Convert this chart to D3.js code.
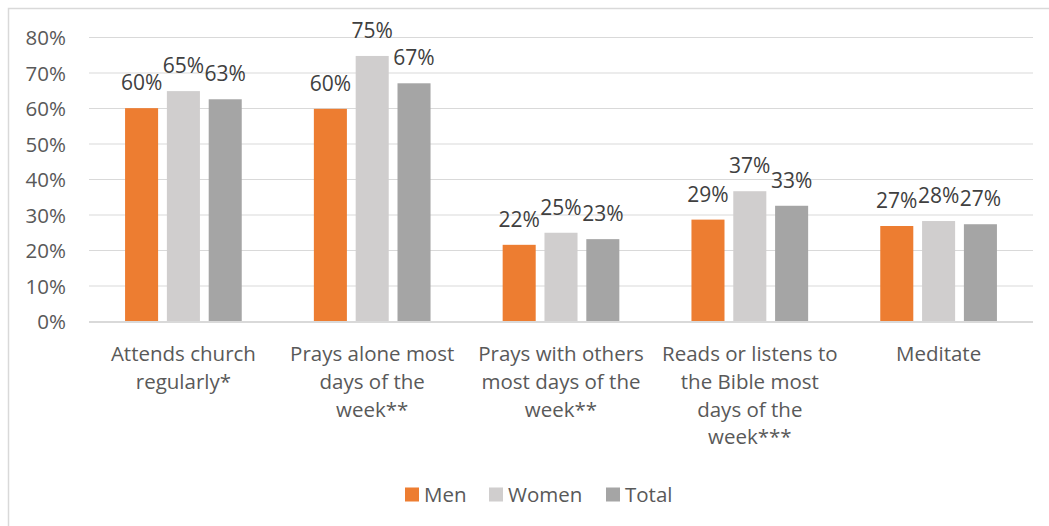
<!DOCTYPE html>
<html>
<head>
<meta charset="utf-8">
<script src="https://cdn.jsdelivr.net/npm/d3@7"></script>
<style>
  html, body { margin: 0; padding: 0; background: #fff; }
  svg { display: block; }
  text { font-family: "Open Sans", "Noto Sans", sans-serif; fill: #595959; }
</style>
</head>
<body>
<svg id="chart" width="1049" height="526"></svg>
<script>
// Religious practices by gender
const categories = [
  ["Attends church", "regularly*"],
  ["Prays alone most", "days of the", "week**"],
  ["Prays with others", "most days of the", "week**"],
  ["Reads or listens to", "the Bible most", "days of the", "week***"],
  ["Meditate"]
];
const seriesNames = ["Men", "Women", "Total"];
const men   = [0.601, 0.599, 0.216, 0.287, 0.269];
const women = [0.649, 0.748, 0.250, 0.367, 0.283];
const total = [0.626, 0.671, 0.232, 0.326, 0.274];
const yTicks = [0, 0.1, 0.2, 0.3, 0.4, 0.5, 0.6, 0.7, 0.8];
const colors = ["#ED7D31", "#D0CECE", "#A5A5A5"];

const seriesValues = [men, women, total];
const rows = categories.map((lines, i) => ({
  key: lines.join(" "),
  lines,
  values: seriesNames.map((s, j) => ({ series: s, value: seriesValues[j][i] }))
}));

const svg = d3.select("#chart");
const fontSize = 20.5;

// chart frame
svg.append("rect")
  .attr("x", 8.5).attr("y", 8.5)
  .attr("width", 1060).attr("height", 540)
  .attr("fill", "#fff")
  .attr("stroke", "#D9D9D9").attr("stroke-width", 1.5);

const plot = { left: 89, right: 1033, top: 37.5, bottom: 321.5 };

const y = d3.scaleLinear().domain([0, 0.8]).range([plot.bottom, plot.top]);
const x0 = d3.scaleBand().domain(rows.map(r => r.key)).range([plot.left, plot.right]);
const inner = x0.bandwidth() * 0.618;
const x1 = d3.scaleBand().domain(seriesNames)
  .range([(x0.bandwidth() - inner) / 2, (x0.bandwidth() + inner) / 2])
  .paddingInner(0.21);
const pct = d3.format(".0%");

// gridlines
svg.append("g")
  .selectAll("line")
  .data(yTicks.filter(t => t > 0))
  .join("line")
  .attr("x1", plot.left).attr("x2", plot.right)
  .attr("y1", d => y(d)).attr("y2", d => y(d))
  .attr("stroke", "#D9D9D9").attr("stroke-width", 1.2);

// y axis labels
const yAxis = svg.append("g")
  .attr("transform", `translate(${plot.left - 23},0)`)
  .call(d3.axisLeft(y).tickValues(yTicks).tickFormat(pct).tickSize(0).tickPadding(0));
yAxis.select(".domain").remove();
yAxis.selectAll("text")
  .attr("font-size", fontSize)
  .attr("font-family", null)
  .attr("fill", "#595959")
  .attr("dy", "0.36em")
  .attr("dx", 0);

// bars
const groups = svg.append("g")
  .selectAll("g")
  .data(rows)
  .join("g")
  .attr("transform", d => `translate(${x0(d.key)},0)`);

groups.selectAll("rect")
  .data(d => d.values)
  .join("rect")
  .attr("x", d => x1(d.series))
  .attr("width", x1.bandwidth())
  .attr("y", d => y(d.value))
  .attr("height", d => y(0) - y(d.value))
  .attr("fill", (d, i) => colors[i]);

// value labels
groups.selectAll("text.val")
  .data(d => d.values)
  .join("text")
  .attr("class", "val")
  .attr("x", d => x1(d.series) + x1.bandwidth() / 2)
  .attr("y", d => y(d.value) - 18)
  .attr("text-anchor", "middle")
  .attr("font-size", 21)
  .style("fill", "#404040")
  .text(d => pct(d.value));

// baseline
svg.append("line")
  .attr("x1", plot.left).attr("x2", plot.right)
  .attr("y1", plot.bottom + 0.5).attr("y2", plot.bottom + 0.5)
  .attr("stroke", "#D9D9D9").attr("stroke-width", 2.2);

// category labels
const catLabels = svg.append("g")
  .selectAll("text")
  .data(rows)
  .join("text")
  .attr("x", d => x0(d.key) + x0.bandwidth() / 2)
  .attr("y", 361)
  .attr("text-anchor", "middle")
  .attr("font-size", fontSize);
catLabels.selectAll("tspan")
  .data(d => d.lines)
  .join("tspan")
  .attr("x", function () { return d3.select(this.parentNode).attr("x"); })
  .attr("dy", (d, i) => i === 0 ? 0 : 27.8)
  .text(d => d);

// legend
const legendX = [405, 489, 606];
const legend = svg.append("g")
  .selectAll("g")
  .data(seriesNames)
  .join("g")
  .attr("transform", (d, i) => `translate(${legendX[i]},487.5)`);
legend.append("rect")
  .attr("width", 14).attr("height", 14)
  .attr("fill", (d, i) => colors[i]);
legend.append("text")
  .attr("x", 19).attr("y", 14)
  .attr("font-size", fontSize)
  .text(d => d);
</script>
</body>
</html>
